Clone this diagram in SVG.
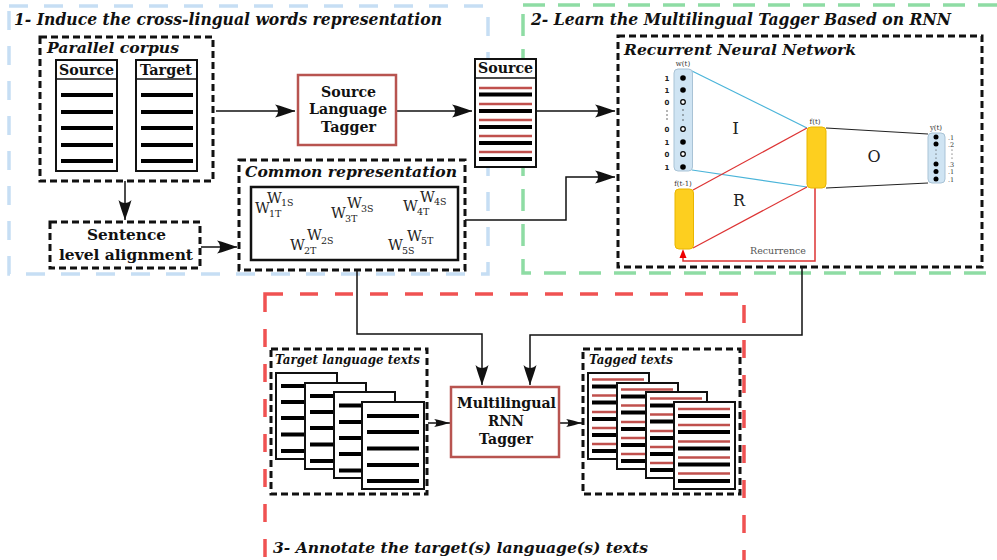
<svg xmlns="http://www.w3.org/2000/svg" width="997" height="560" viewBox="0 0 997 560">
<style>
.ti{font-family:"DejaVu Serif","Liberation Serif",serif;font-weight:bold;font-style:italic;fill:#111}
.tb{font-family:"DejaVu Serif","Liberation Serif",serif;font-weight:bold;fill:#111}
.w{font-family:"DejaVu Serif",serif;fill:#222}
.sm{font-family:"DejaVu Serif",serif;font-size:7px;fill:#333;text-anchor:middle}
.num{font-family:"DejaVu Sans",sans-serif;font-weight:bold;font-size:7px;fill:#222;text-anchor:middle}
.dash{fill:none;stroke:#111;stroke-width:3;stroke-dasharray:7,4}
.solid{fill:#fff;stroke:#111;stroke-width:2}
.blk{stroke:#000;stroke-width:4}
.red{stroke:#c0504d;stroke-width:2.5}
.tagger{fill:#fff;stroke:#b85450;stroke-width:2.5}
.conn{fill:none;stroke:#111;stroke-width:1.5}
</style>
<defs>
<marker id="ah" markerUnits="userSpaceOnUse" markerWidth="24" markerHeight="16" viewBox="-22 -8 24 16" refX="0" refY="0" orient="auto">
<path d="M0,0 C-6,-2 -14,-5 -20,-6.5 C-16,-3 -16,3 -20,6.5 C-14,5 -6,2 0,0 Z" fill="#111"/>
</marker>
<marker id="ahs" markerUnits="userSpaceOnUse" markerWidth="18" markerHeight="10" viewBox="-17 -5 18 10" refX="0" refY="0" orient="auto">
<path d="M0,0 C-5,-1.5 -11,-3 -16,-4 C-13,-2 -13,2 -16,4 C-11,3 -5,1.5 0,0 Z" fill="#111"/>
</marker>
</defs>
<rect width="997" height="560" fill="#fff"/>

<!-- section frames -->
<g id="sections">
<rect x="9" y="6" width="479" height="268" fill="none" stroke="#c6def4" stroke-width="3.5" stroke-dasharray="19,16"/>
<rect x="523" y="5" width="500" height="268" fill="none" stroke="#8edca4" stroke-width="3.5" stroke-dasharray="22,13"/>
<rect x="265" y="294" width="479" height="300" fill="none" stroke="#f05252" stroke-width="3.5" stroke-dasharray="18,17"/>
<text class="ti" x="14" y="25" font-size="16.5" textLength="428" lengthAdjust="spacingAndGlyphs">1- Induce the cross-lingual words representation</text>
<text class="ti" x="531" y="25" font-size="16.5" textLength="420" lengthAdjust="spacingAndGlyphs">2- Learn the Multilingual Tagger Based on RNN</text>
<text class="ti" x="273" y="553" font-size="15" textLength="375" lengthAdjust="spacingAndGlyphs">3- Annotate the target(s) language(s) texts</text>
</g>

<!-- connectors -->
<g id="connectors">
<path class="conn" d="M216,111 H295" marker-end="url(#ah)"/>
<path class="conn" d="M396,111 H472" marker-end="url(#ah)"/>
<path class="conn" d="M536,111 H615" marker-end="url(#ah)"/>
<path class="conn" d="M465,220 H566 V177 H615" marker-end="url(#ah)"/>
<path class="conn" d="M125,181 V220" marker-end="url(#ah)"/>
<path class="conn" d="M201,247 H237" marker-end="url(#ah)"/>
<path class="conn" d="M357,271 V334 H482 V385" marker-end="url(#ah)"/>
<path class="conn" d="M802,268 V335 H530 V385" marker-end="url(#ah)"/>
<path class="conn" d="M428,423 H450" marker-end="url(#ahs)"/>
<path class="conn" d="M560,423 H582" marker-end="url(#ahs)"/>
</g>

<!-- Parallel corpus -->
<g id="parallel-corpus">
<rect class="dash" x="40" y="37" width="173" height="144"/>
<text class="ti" x="47" y="53" font-size="15" textLength="132" lengthAdjust="spacingAndGlyphs">Parallel corpus</text>
<rect class="solid" x="56" y="60" width="61" height="111"/>
<line x1="56" y1="79" x2="117" y2="79" stroke="#111" stroke-width="1.5"/>
<text class="tb" x="59" y="75" font-size="14" textLength="55" lengthAdjust="spacingAndGlyphs">Source</text>
<g class="blk">
<line x1="61" y1="95" x2="113" y2="95"/><line x1="61" y1="112" x2="113" y2="112"/><line x1="61" y1="128" x2="113" y2="128"/><line x1="61" y1="145" x2="113" y2="145"/><line x1="61" y1="161" x2="113" y2="161"/>
</g>
<rect class="solid" x="136" y="60" width="61" height="111"/>
<line x1="136" y1="79" x2="197" y2="79" stroke="#111" stroke-width="1.5"/>
<text class="tb" x="140" y="75" font-size="14" textLength="52" lengthAdjust="spacingAndGlyphs">Target</text>
<g class="blk">
<line x1="141" y1="95" x2="193" y2="95"/><line x1="141" y1="112" x2="193" y2="112"/><line x1="141" y1="128" x2="193" y2="128"/><line x1="141" y1="145" x2="193" y2="145"/><line x1="141" y1="161" x2="193" y2="161"/>
</g>
</g>

<!-- Sentence level alignment -->
<g id="sentence-alignment">
<rect class="dash" x="50" y="222" width="150" height="46" fill="#fff"/>
<text class="tb" x="87" y="240" font-size="15" textLength="79" lengthAdjust="spacingAndGlyphs">Sentence</text>
<text class="tb" x="59" y="260" font-size="15" textLength="134" lengthAdjust="spacingAndGlyphs">level alignment</text>
</g>

<!-- Source Language Tagger -->
<g id="source-tagger">
<rect class="tagger" x="298" y="75" width="98" height="70"/>
<text class="tb" x="321" y="97" font-size="15" textLength="55" lengthAdjust="spacingAndGlyphs">Source</text>
<text class="tb" x="309" y="114" font-size="15" textLength="78" lengthAdjust="spacingAndGlyphs">Language</text>
<text class="tb" x="321" y="132" font-size="15" textLength="55" lengthAdjust="spacingAndGlyphs">Tagger</text>
</g>

<!-- Tagged source -->
<g id="tagged-source">
<rect class="solid" x="475" y="59" width="61" height="108"/>
<line x1="475" y1="78" x2="536" y2="78" stroke="#111" stroke-width="1.5"/>
<text class="tb" x="478" y="73" font-size="14" textLength="55" lengthAdjust="spacingAndGlyphs">Source</text>
<g class="red">
<line x1="479" y1="88" x2="532" y2="88"/><line x1="479" y1="104" x2="532" y2="104"/><line x1="479" y1="120" x2="532" y2="120"/><line x1="479" y1="136" x2="532" y2="136"/><line x1="479" y1="152" x2="532" y2="152"/>
</g>
<g class="blk">
<line x1="479" y1="94.5" x2="532" y2="94.5"/><line x1="479" y1="111" x2="532" y2="111"/><line x1="479" y1="127" x2="532" y2="127"/><line x1="479" y1="143" x2="532" y2="143"/><line x1="479" y1="159" x2="532" y2="159"/>
</g>
</g>

<!-- Common representation -->
<g id="common-representation">
<rect class="dash" x="239" y="160" width="226" height="110"/>
<text class="ti" x="245" y="177" font-size="15" textLength="212" lengthAdjust="spacingAndGlyphs">Common representation</text>
<rect x="251" y="187" width="207" height="73" fill="#fff" stroke="#111" stroke-width="2.5"/>
<g class="w">
<text x="255" y="213" font-size="14.5">W</text><text x="269" y="217" font-size="9.5">1T</text><text x="267" y="203" font-size="14.5">W</text><text x="281" y="206" font-size="9.5">1S</text>
<text x="331" y="218" font-size="14.5">W</text><text x="345" y="222" font-size="9.5">3T</text><text x="347" y="208" font-size="14.5">W</text><text x="361" y="212" font-size="9.5">3S</text>
<text x="403" y="211" font-size="14.5">W</text><text x="417" y="215" font-size="9.5">4T</text><text x="420" y="202" font-size="14.5">W</text><text x="434" y="205" font-size="9.5">4S</text>
<text x="290" y="250" font-size="14.5">W</text><text x="304" y="254" font-size="9.5">2T</text><text x="307" y="240" font-size="14.5">W</text><text x="321" y="244" font-size="9.5">2S</text>
<text x="388" y="250" font-size="14.5">W</text><text x="402" y="254" font-size="9.5">5S</text><text x="407" y="241" font-size="14.5">W</text><text x="421" y="244" font-size="9.5">5T</text>
</g>
</g>

<!-- RNN -->
<g id="rnn">
<rect class="dash" x="618" y="36" width="364" height="231"/>
<text class="ti" x="624" y="55" font-size="15.5" textLength="232" lengthAdjust="spacingAndGlyphs">Recurrent Neural Network</text>
<line x1="692" y1="71" x2="807" y2="128" stroke="#4ab4d9" stroke-width="1.2"/>
<line x1="692" y1="170" x2="807" y2="187" stroke="#4ab4d9" stroke-width="1.2"/>
<line x1="693" y1="190" x2="807" y2="128" stroke="#d33" stroke-width="1.2"/>
<line x1="693" y1="248" x2="807" y2="187" stroke="#d33" stroke-width="1.2"/>
<line x1="826" y1="128" x2="928" y2="134" stroke="#222" stroke-width="1.2"/>
<line x1="826" y1="188" x2="928" y2="183" stroke="#222" stroke-width="1.2"/>
<path d="M815,188 V261 H683 V257" fill="none" stroke="#d33" stroke-width="1.5"/>
<polygon points="683,249 679.5,258 686.5,258" fill="#e00"/>
<rect x="674" y="69" width="18.5" height="102" rx="4" fill="#cfe4f3" stroke="#a9c3d6" stroke-width="1"/>
<text class="sm" x="683" y="66">w(t)</text>
<g fill="#000">
<circle cx="683" cy="78" r="2.8"/><circle cx="683" cy="90" r="2.8"/><circle cx="683" cy="142" r="2.8"/><circle cx="683" cy="167" r="2.8"/>
</g>
<g fill="#fff" stroke="#000" stroke-width="1.2">
<circle cx="683" cy="102" r="2.3"/><circle cx="683" cy="129" r="2.3"/><circle cx="683" cy="154" r="2.3"/>
</g>
<g fill="#333">
<circle cx="683" cy="110" r="0.7"/><circle cx="683" cy="115" r="0.7"/><circle cx="683" cy="120" r="0.7"/>
<circle cx="667" cy="111" r="0.7"/><circle cx="667" cy="115" r="0.7"/><circle cx="667" cy="119" r="0.7"/>
</g>
<text class="num" x="667" y="80.5">1</text><text class="num" x="667" y="92.5">1</text><text class="num" x="667" y="104.5">0</text>
<text class="num" x="667" y="131.5">0</text><text class="num" x="667" y="144.5">1</text><text class="num" x="667" y="156.5">0</text><text class="num" x="667" y="169.5">1</text>
<rect x="807" y="127" width="19" height="61" rx="4" fill="#fdcf1f" stroke="#e9b600" stroke-width="1"/>
<text class="sm" x="815" y="124">f(t)</text>
<rect x="675" y="189" width="18.5" height="60" rx="4" fill="#fdcf1f" stroke="#e9b600" stroke-width="1"/>
<text class="sm" x="683" y="186">f(t-1)</text>
<rect x="928" y="133" width="17" height="50" rx="4" fill="#cfe4f3" stroke="#a9c3d6" stroke-width="1"/>
<text class="sm" x="936" y="130">y(t)</text>
<g fill="#000">
<circle cx="936" cy="137" r="2.5"/><circle cx="936" cy="144" r="2.5"/><circle cx="936" cy="164" r="2.5"/><circle cx="936" cy="171.5" r="2.5"/><circle cx="936" cy="179" r="2.5"/>
</g>
<g fill="#333">
<circle cx="936" cy="150" r="0.6"/><circle cx="936" cy="154" r="0.6"/><circle cx="936" cy="158" r="0.6"/>
<circle cx="952" cy="150" r="0.6"/><circle cx="952" cy="154" r="0.6"/><circle cx="952" cy="158" r="0.6"/>
</g>
<g font-family="DejaVu Serif, serif" font-size="6.5" fill="#333">
<text x="948" y="140">.1</text><text x="948" y="147">.2</text><text x="948" y="166.5">.3</text><text x="948" y="174">.1</text><text x="948" y="181.5">.1</text>
</g>
<g font-family="DejaVu Serif, serif" fill="#222" text-anchor="middle">
<text x="735.5" y="134" font-size="17">I</text>
<text x="739" y="206" font-size="16">R</text>
<text x="874" y="162" font-size="16">O</text>
</g>
<text x="750" y="254" font-family="DejaVu Serif, serif" font-size="10" fill="#555" textLength="56" lengthAdjust="spacingAndGlyphs">Recurrence</text>
</g>

<!-- Target language texts -->
<g id="target-texts">
<rect class="dash" x="271" y="349" width="156" height="145"/>
<text class="ti" x="275" y="364" font-size="12" textLength="145" lengthAdjust="spacingAndGlyphs">Target language texts</text>
<rect class="solid" x="276" y="373" width="61" height="86"/>
<g class="blk"><line x1="281" y1="386" x2="333" y2="386"/><line x1="281" y1="402" x2="333" y2="402"/><line x1="281" y1="418" x2="333" y2="418"/><line x1="281" y1="434.5" x2="333" y2="434.5"/><line x1="281" y1="451" x2="333" y2="451"/></g>
<rect class="solid" x="305" y="383" width="61" height="86"/>
<g class="blk"><line x1="310" y1="396" x2="362" y2="396"/><line x1="310" y1="412" x2="362" y2="412"/><line x1="310" y1="428" x2="362" y2="428"/><line x1="310" y1="444.5" x2="362" y2="444.5"/><line x1="310" y1="461" x2="362" y2="461"/></g>
<rect class="solid" x="334" y="392" width="61" height="86"/>
<g class="blk"><line x1="339" y1="405.5" x2="391" y2="405.5"/><line x1="339" y1="422" x2="391" y2="422"/><line x1="339" y1="438" x2="391" y2="438"/><line x1="339" y1="454" x2="391" y2="454"/><line x1="339" y1="470.5" x2="391" y2="470.5"/></g>
<rect class="solid" x="362" y="402" width="62" height="87"/>
<g class="blk"><line x1="367" y1="416" x2="419" y2="416"/><line x1="367" y1="432" x2="419" y2="432"/><line x1="367" y1="448.5" x2="419" y2="448.5"/><line x1="367" y1="465" x2="419" y2="465"/><line x1="367" y1="481" x2="419" y2="481"/></g>
</g>

<!-- Multilingual RNN Tagger -->
<g id="multilingual-tagger">
<rect class="tagger" x="451" y="387" width="108" height="70"/>
<text class="tb" x="457" y="408" font-size="15" textLength="99" lengthAdjust="spacingAndGlyphs">Multilingual</text>
<text class="tb" x="488" y="426" font-size="15" textLength="36" lengthAdjust="spacingAndGlyphs">RNN</text>
<text class="tb" x="479" y="444" font-size="15" textLength="54" lengthAdjust="spacingAndGlyphs">Tagger</text>
</g>

<!-- Tagged texts -->
<g id="tagged-texts">
<rect class="dash" x="583" y="349" width="157" height="145"/>
<text class="ti" x="589" y="364" font-size="12" textLength="84" lengthAdjust="spacingAndGlyphs">Tagged texts</text>
<rect class="solid" x="588" y="373" width="61" height="86"/>
<g class="red"><line x1="592" y1="379.5" x2="644" y2="379.5"/><line x1="592" y1="395.5" x2="644" y2="395.5"/><line x1="592" y1="412" x2="644" y2="412"/><line x1="592" y1="428" x2="644" y2="428"/><line x1="592" y1="444" x2="644" y2="444"/></g>
<g class="blk"><line x1="592" y1="386.5" x2="644" y2="386.5"/><line x1="592" y1="402.5" x2="644" y2="402.5"/><line x1="592" y1="419" x2="644" y2="419"/><line x1="592" y1="435" x2="644" y2="435"/><line x1="592" y1="451" x2="644" y2="451"/></g>
<rect class="solid" x="617" y="383" width="61" height="86"/>
<g class="red"><line x1="621" y1="389.5" x2="673" y2="389.5"/><line x1="621" y1="405.5" x2="673" y2="405.5"/><line x1="621" y1="422" x2="673" y2="422"/><line x1="621" y1="438" x2="673" y2="438"/><line x1="621" y1="454" x2="673" y2="454"/></g>
<g class="blk"><line x1="621" y1="396.5" x2="673" y2="396.5"/><line x1="621" y1="412.5" x2="673" y2="412.5"/><line x1="621" y1="429" x2="673" y2="429"/><line x1="621" y1="445" x2="673" y2="445"/><line x1="621" y1="461" x2="673" y2="461"/></g>
<rect class="solid" x="646" y="392" width="61" height="86"/>
<g class="red"><line x1="650" y1="398.5" x2="702" y2="398.5"/><line x1="650" y1="414.5" x2="702" y2="414.5"/><line x1="650" y1="431" x2="702" y2="431"/><line x1="650" y1="447" x2="702" y2="447"/><line x1="650" y1="463" x2="702" y2="463"/></g>
<g class="blk"><line x1="650" y1="405.5" x2="702" y2="405.5"/><line x1="650" y1="421.5" x2="702" y2="421.5"/><line x1="650" y1="438" x2="702" y2="438"/><line x1="650" y1="454" x2="702" y2="454"/><line x1="650" y1="470" x2="702" y2="470"/></g>
<rect class="solid" x="674" y="402" width="61" height="87"/>
<g class="red"><line x1="678" y1="409" x2="730" y2="409"/><line x1="678" y1="425" x2="730" y2="425"/><line x1="678" y1="441.5" x2="730" y2="441.5"/><line x1="678" y1="457.5" x2="730" y2="457.5"/><line x1="678" y1="473.5" x2="730" y2="473.5"/></g>
<g class="blk"><line x1="678" y1="416" x2="730" y2="416"/><line x1="678" y1="432" x2="730" y2="432"/><line x1="678" y1="448.5" x2="730" y2="448.5"/><line x1="678" y1="464.5" x2="730" y2="464.5"/><line x1="678" y1="481" x2="730" y2="481"/></g>
</g>
</svg>
